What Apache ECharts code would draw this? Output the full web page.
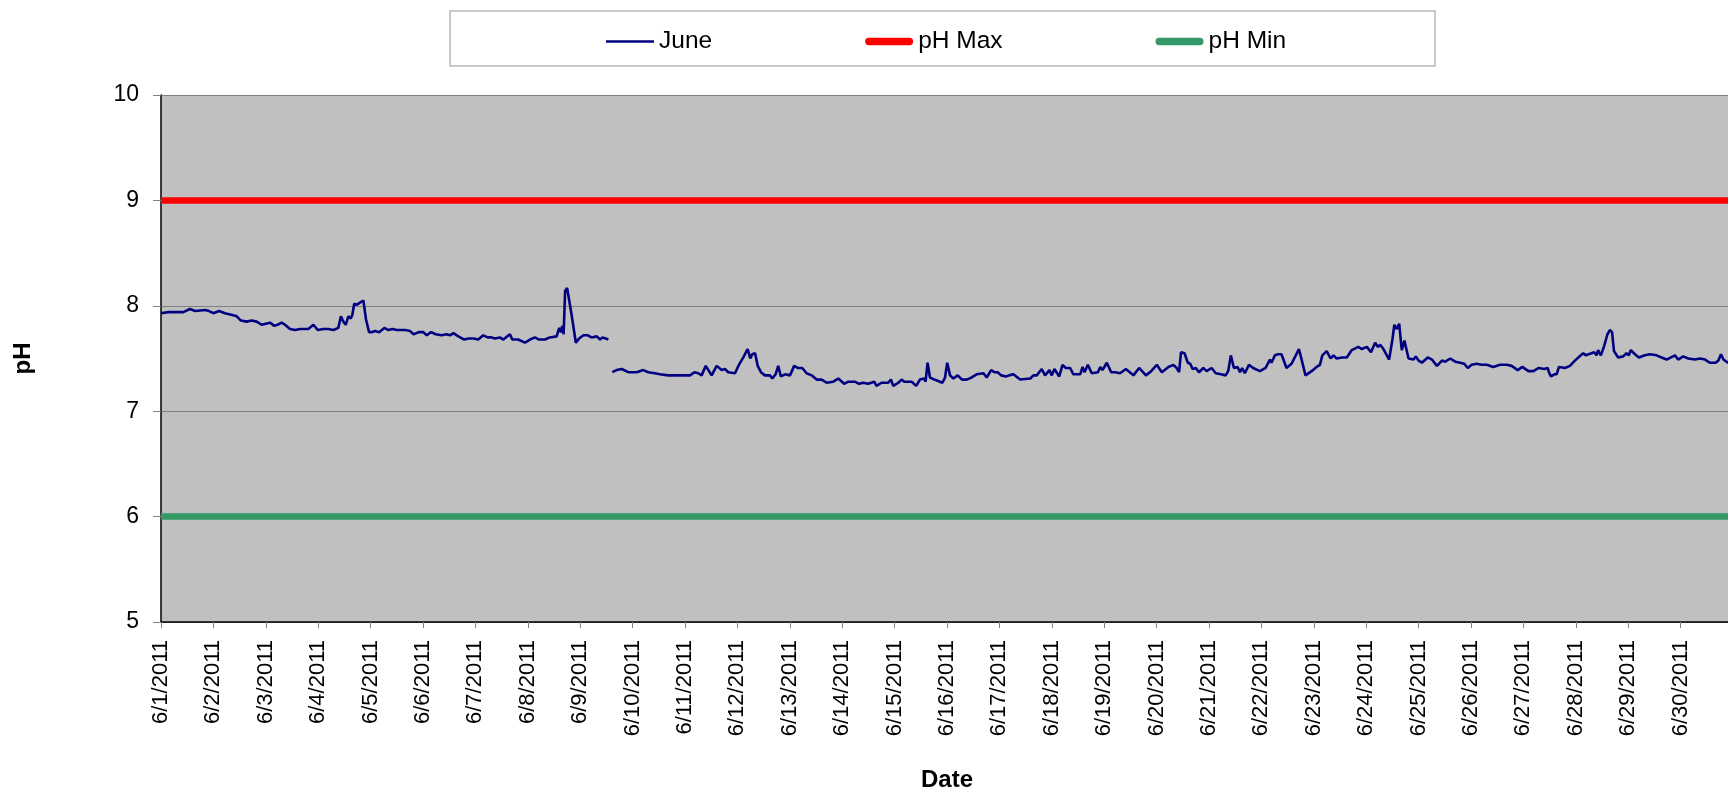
<!DOCTYPE html>
<html>
<head>
<meta charset="utf-8">
<script src="https://cdn.jsdelivr.net/npm/echarts@6/dist/echarts.min.js"></script>
<style>
html,body{margin:0;padding:0;background:#fff;}
#chart{width:1728px;height:794px;}
</style>
</head>
<body>
<div id="chart"></div>
<script>
// Hours since 6/1/2011 00:00 and pH readings (null = gap in record)
const hours = [
0,3.4,6.4,10.2,13.3,15.6,20.2,22,24,26.6,29.3,33.1,34.7,36.6,39.2,41.5,43.8,46.1,49.9,51.9,53.4,55.3,56.8,59.1,61.4,63.7,67.5,69.8,71.8,74.3,76.6,79,81.2,82.4,83.5,84.6,85.8,86.9,87.6,88.5,89.8,91.1,92.7,93.9,95.3,96.5,98,99.9,102.3,104.1,106,108,111.8,114.1,115.7,118.1,
120.2,121.7,123.7,125.8,128.5,130.8,132.4,133.9,136.2,138.9,140.8,143.1,145.3,147.6,149.6,151.4,153,155.2,156.8,159.8,160.9,163.6,166.7,169,171.3,173.1,175.9,178.1,181.2,182.4,183.2,183.8,184.4,185.1,186,186.9,188.1,190,191.5,193.5,195.5,197.2,199.6,201.1,202.2,203.7,204.9,
205.8,
206.7,208.7,211,214,217.9,220.9,223.2,226.2,228.5,232.3,237.7,242.3,244.3,246.1,247.6,249.5,250.4,252.2,254.5,256.8,258.3,259.8,262.9,264.7,266.7,268.7,269.9,270.8,272.1,273.3,274.8,276.6,278.9,280,281.5,282.7,283.9,285.8,288.1,290,291.6,293.7,295.7,298,300.3,302.6,304.9,307.9,310.2,312.9,314.8,317.8,319.7,321.6,323.9,326.7,327.7,330,333.1,334.3,335.4,337.7,339.2,340.4,341.9,343.8,345.9,347.6,349.6,350.2,351.1,352.2,354.2,356.8,
357.9,359.1,360.1,361.4,362.9,364.9,366.9,369,371.3,373.6,376.7,378.2,380.2,381.7,383.2,384.8,386.9,388.4,390.4,393.5,398.1,399.6,401.1,403.4,404.9,406.9,408,409.2,411.4,412.9,414.4,416.4,417.9,421,422.1,423,424.5,426.3,429.1,430.2,431.2,433.2,435.2,437,439.3,441.9,445.4,448,451.1,453.5,456.1,458.4,461.4,463.7,465.2,466.3,467.2,468.8,470.3,471.4,472.5,474,
475.4,477.4,478.9,481.2,483.1,485.5,487.6,488.8,490,491.4,493.1,494.2,495.2,496.4,498.3,500.2,503.3,505.9,507.9,508.6,510.2,511.7,513.2,515.5,517.8,519.3,521.2,522.4,524.2,527,529.3,530.8,531.9,533.9,535.7,537,538.5,540.8,543.1,545.4,548.4,550,552.3,554.2,556.1,557.3,558.4,559.9,562.5,564,564.9,566,567.1,568.3,569.5,571.4,573.7,574.7,576,577.5,580.2,582.1,584.4,586.7,588.2,590.5,592.8,
595,596.9,598.5,600.3,602.6,604.9,607.2,610.2,613.3,616.4,618.6,621.4,623.5,626.3,628.6,630.9,633.6,635.1,635.7,636.6,638.2,639.2,640.3,643,645.3,647.6,650.3,651.4,652.5,655.2,656.4,657.5,658.2,659.5,661,662.5,663.6,664.6,665.5,667.4,669.7,671.2,672.3,673.2,675.1,676.9,679.6,681.9,685,687.3,689.6,691.6,693.4,694.9,697.2,699.5,702.6,704.9,707.2,709.4,712,713.3,714.5,715.6,717.7,719.5
];
const junePH = [
7.93,7.94,7.94,7.94,7.97,7.95,7.96,7.95,7.93,7.95,7.93,7.91,7.90,7.86,7.85,7.86,7.85,7.82,7.84,7.81,7.82,7.84,7.82,7.78,7.77,7.78,7.78,7.82,7.77,7.78,7.78,7.77,7.79,7.90,7.85,7.82,7.90,7.88,7.91,8.02,8.01,8.03,8.05,7.87,7.75,7.75,7.76,7.75,7.79,7.77,7.78,7.77,7.77,7.76,7.73,7.75,
7.75,7.72,7.75,7.73,7.72,7.73,7.72,7.74,7.71,7.68,7.69,7.69,7.68,7.72,7.70,7.70,7.69,7.70,7.68,7.73,7.68,7.68,7.65,7.68,7.70,7.68,7.68,7.70,7.71,7.79,7.75,7.81,7.73,8.14,8.17,8.17,7.91,7.65,7.69,7.72,7.72,7.70,7.71,7.68,7.70,7.69,7.68,
null,
7.37,7.39,7.40,7.37,7.37,7.39,7.37,7.36,7.35,7.34,7.34,7.34,7.37,7.36,7.34,7.43,7.42,7.34,7.43,7.39,7.40,7.37,7.36,7.44,7.51,7.59,7.50,7.54,7.55,7.43,7.37,7.34,7.34,7.31,7.35,7.43,7.33,7.35,7.34,7.43,7.41,7.41,7.36,7.34,7.30,7.30,7.27,7.28,7.31,7.26,7.28,7.28,7.26,7.27,7.26,7.28,7.24,7.27,7.27,7.30,7.24,7.27,7.30,7.28,7.28,7.28,7.24,7.30,7.31,7.28,7.46,7.32,7.30,7.28,
7.27,7.32,7.46,7.34,7.31,7.34,7.30,7.30,7.32,7.35,7.36,7.32,7.39,7.37,7.37,7.34,7.33,7.34,7.35,7.30,7.31,7.34,7.34,7.40,7.34,7.39,7.34,7.40,7.33,7.44,7.41,7.41,7.35,7.35,7.42,7.37,7.44,7.36,7.37,7.42,7.39,7.46,7.37,7.37,7.36,7.40,7.34,7.41,7.34,7.38,7.44,7.37,7.42,7.44,7.41,7.37,7.56,7.55,7.46,7.45,7.40,7.41,
7.37,7.41,7.38,7.41,7.36,7.35,7.34,7.38,7.53,7.41,7.42,7.37,7.41,7.36,7.44,7.41,7.38,7.41,7.49,7.46,7.53,7.54,7.54,7.41,7.45,7.51,7.59,7.49,7.34,7.38,7.42,7.44,7.53,7.57,7.50,7.53,7.50,7.51,7.51,7.58,7.61,7.59,7.61,7.56,7.65,7.61,7.63,7.59,7.49,7.68,7.82,7.78,7.83,7.58,7.67,7.50,7.49,7.52,7.48,7.46,7.51,7.49,7.43,7.48,7.47,7.50,7.47,
7.46,7.45,7.41,7.44,7.45,7.44,7.44,7.42,7.44,7.44,7.43,7.39,7.42,7.38,7.38,7.41,7.40,7.41,7.37,7.33,7.35,7.35,7.42,7.41,7.43,7.48,7.53,7.55,7.53,7.55,7.56,7.53,7.58,7.53,7.62,7.73,7.77,7.75,7.57,7.51,7.52,7.55,7.53,7.58,7.54,7.51,7.53,7.54,7.53,7.51,7.49,7.51,7.53,7.49,7.52,7.50,7.49,7.50,7.49,7.46,7.46,7.48,7.54,7.49,7.46,7.45
];
const phMax = 9;
const phMin = 6;
const seriesNames = ['June', 'pH Max', 'pH Min'];
const yTicks = [5, 6, 7, 8, 9, 10];
const startHour = 0, endHour = 720;

function dayLabel(h) {
  const d = Math.round(h / 24) + 1;
  return '6/' + d + '/2011';
}

const chart = echarts.init(document.getElementById('chart'), null, {renderer: 'canvas'});
const font = 'Liberation Sans, Arial, sans-serif';

// legend icon shapes (invisible corner points keep the 48x14 box)
const thinIcon = 'path://M0,0L0,0ZM48,14L48,14ZM0,5.7L48,5.7L48,8.3L0,8.3Z';
const thickIcon = 'path://M0,0L0,0ZM48,14L48,14ZM3.5,3.3L44.5,3.3A3.7,3.7 0 0 1 44.5,10.7L3.5,10.7A3.7,3.7 0 0 1 3.5,3.3Z';

chart.setOption({
  animation: false,
  backgroundColor: '#ffffff',
  textStyle: {fontFamily: font},
  graphic: [{
    type: 'rect',
    shape: {x: 450, y: 11, width: 985, height: 55},
    style: {fill: '#ffffff', stroke: '#b8b8b8', lineWidth: 1.5},
    z: 0
  }],
  legend: {
    data: [
      {name: seriesNames[0], icon: thinIcon},
      {name: seriesNames[1], icon: thickIcon},
      {name: seriesNames[2], icon: thickIcon}
    ],
    left: 601,
    top: 24,
    itemWidth: 48,
    itemHeight: 14,
    itemGap: 153,
    textStyle: {fontSize: 24.5, color: '#000', fontFamily: font, padding: [0, 0, 0, 0]},
    z: 5
  },
  grid: {
    left: 161, top: 95, width: 1572, height: 527,
    show: true, backgroundColor: '#C0C0C0', borderWidth: 0,
    outerBoundsMode: 'none'
  },
  xAxis: {
    type: 'value',
    min: startHour, max: endHour, interval: 24,
    name: 'Date', nameLocation: 'middle', nameGap: 146,
    nameTextStyle: {fontSize: 24, fontWeight: 'bold', color: '#000', fontFamily: font},
    axisLine: {show: true, onZero: false, lineStyle: {color: '#000', width: 1.5}},
    axisTick: {show: true, length: 6, lineStyle: {color: '#808080'}},
    axisLabel: {rotate: 90, margin: 18, fontSize: 22, color: '#000', fontFamily: font,
      showMaxLabel: false, formatter: v => v >= endHour ? '' : dayLabel(v)},
    splitLine: {show: false}
  },
  yAxis: {
    type: 'value',
    min: yTicks[0], max: yTicks[yTicks.length - 1], interval: 1,
    name: 'pH', nameLocation: 'middle', nameGap: 126, nameRotate: 90,
    nameTextStyle: {fontSize: 24, fontWeight: 'bold', color: '#000', fontFamily: font},
    axisLine: {show: true, lineStyle: {color: '#000', width: 1.5}},
    axisTick: {show: true, length: 8, lineStyle: {color: '#808080'}},
    axisLabel: {margin: 22, fontSize: 23, color: '#000', fontFamily: font},
    splitLine: {show: true, lineStyle: {color: '#808080', width: 1.2}}
  },
  series: [
    {
      name: seriesNames[0], type: 'line', showSymbol: false, symbol: 'none',
      connectNulls: false,
      data: hours.map((h, i) => [h, junePH[i]]),
      lineStyle: {color: '#000080', width: 2.6},
      itemStyle: {color: '#000080'},
      z: 4
    },
    {
      name: seriesNames[1], type: 'line', showSymbol: false, symbol: 'none',
      data: [[startHour, phMax], [endHour, phMax]],
      lineStyle: {color: '#FF0000', width: 6.5},
      itemStyle: {color: '#FF0000'},
      z: 3
    },
    {
      name: seriesNames[2], type: 'line', showSymbol: false, symbol: 'none',
      data: [[startHour, phMin], [endHour, phMin]],
      lineStyle: {color: '#339966', width: 6.5},
      itemStyle: {color: '#339966'},
      z: 3
    }
  ]
});
</script>
</body>
</html>
